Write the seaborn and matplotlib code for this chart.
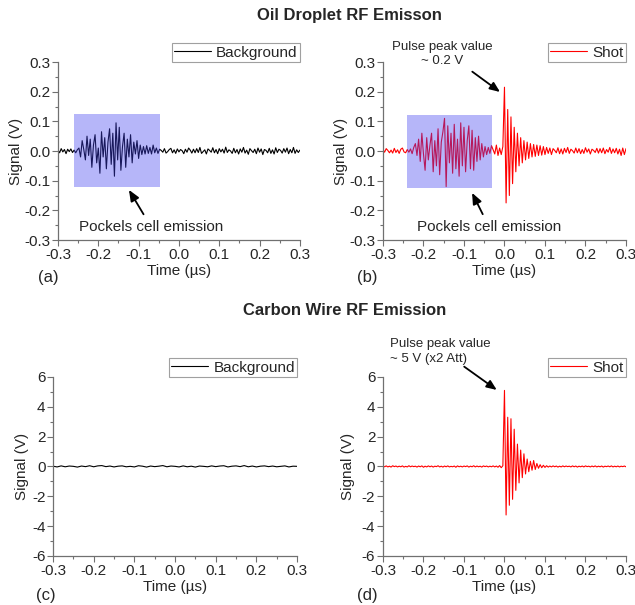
import numpy as np
import pandas as pd
import matplotlib
matplotlib.use("Agg")
import matplotlib.pyplot as plt
import seaborn as sns
from matplotlib.patches import Rectangle
from matplotlib.ticker import MultipleLocator

# sampling of the traces (µs)
T0 = -0.3
DT = 0.004
DT_C = 0.01

# oil droplet, background trace (V), 151 samples
oil_background = [
    0.004, -0.006, 0.008, -0.003, 0.005, -0.009, 0.006, -0.002, 0.007, -0.005, 0.003, -0.006, 0.004,
    0.010, -0.020, 0.035, 0.005, -0.030, 0.050, -0.015, 0.040, -0.055, 0.020,
    0.055, -0.040, 0.010, -0.075, 0.065, -0.020, 0.045, -0.060, 0.030, 0.075,
    -0.045, 0.060, -0.085, 0.095, -0.030, 0.080, -0.065, 0.015, 0.060, -0.055,
    0.040, -0.020, 0.055, -0.040, 0.030, -0.010, 0.035, -0.025,
    0.020, -0.012, 0.015, -0.010, 0.018, -0.008, 0.012, -0.010, 0.020, -0.006, 0.010, -0.008,
    0.006, 0.002, -0.004, 0.008, -0.007, -0.002, 0.005, 0.009, -0.006, 0.004,
    -0.008, 0.007, -0.003, 0.005, 0.001, -0.009, 0.006, -0.004, 0.010, 0.003,
    -0.007, 0.006, -0.006, 0.008, -0.005, 0.012, -0.008, -0.002, 0.004, -0.010,
    0.007, 0.002, -0.004, 0.011, -0.006, 0.005, -0.009, 0.008, -0.003, 0.006,
    -0.007, 0.013, -0.005, 0.004, 0.000, -0.008, 0.009, -0.006, 0.005, -0.010,
    0.007, -0.004, 0.012, -0.007, 0.003, -0.011, 0.008, 0.001, -0.005, 0.006,
    -0.009, 0.010, -0.004, 0.007, -0.012, 0.005, 0.002, -0.006, 0.009, -0.008,
    0.004, -0.010, 0.011, -0.005, 0.006, 0.002, -0.007, 0.008, -0.004, 0.010,
    -0.009, 0.005, -0.006, 0.012, -0.008, 0.004, -0.005, 0.003,
]

# oil droplet, shot trace (V), 151 samples
oil_shot = [
    0.005, -0.004, 0.008, 0.002, -0.006, 0.003, -0.007, 0.009, -0.005, 0.004,
    -0.008, 0.006, 0.010, -0.003, -0.006, 0.005, -0.004, 0.007, -0.009, 0.012,
    0.025, -0.015, 0.040, -0.035, 0.060, -0.010, -0.065, 0.045, -0.030, 0.020,
    0.060, -0.070, 0.035, -0.050, 0.075, -0.080, 0.030, 0.065, 0.110, -0.120,
    0.085, -0.040, 0.060, -0.075, 0.090, -0.060, 0.040, -0.085, 0.095, -0.050,
    0.080, -0.070, 0.035, 0.085, -0.060, 0.070, -0.065, 0.045, -0.035, 0.050,
    -0.030, 0.025, -0.020, 0.015, -0.012,
    0.012, -0.008, 0.018, 0.004, -0.010, 0.020, -0.015, 0.010, -0.012, 0.015,
    0.215, -0.175, 0.140, -0.150, 0.115, -0.110, 0.080, -0.070, 0.060, -0.050,
    0.045, -0.040, 0.035, -0.030, 0.030, -0.025, 0.025, -0.020, 0.022, -0.018,
    0.020, -0.015, 0.018, -0.014, 0.015, -0.012,
    0.012, -0.008, 0.010, -0.012, 0.008, 0.002, -0.006, 0.011, -0.009, 0.007,
    -0.010, 0.009, -0.005, 0.012, -0.008, 0.006, 0.001, -0.007, 0.010, -0.006,
    0.008, -0.009, 0.005, -0.008, 0.011, -0.004, 0.007, -0.010, 0.006, 0.002,
    -0.005, 0.009, -0.007, 0.008, -0.006, 0.010, -0.009, 0.005, -0.004, 0.012,
    -0.008, 0.007, -0.006, 0.009, -0.010, 0.006, -0.015, 0.010, -0.012, 0.008,
]

# carbon wire, background trace (V), 61 samples
carbon_background = [
    0.02, -0.03, 0.04, -0.02, 0.03, 0.01, -0.04, 0.03, -0.01, 0.05,
    -0.02, 0.04, 0.06, -0.01, 0.03, -0.03, 0.02, 0.04, -0.02, 0.01,
    -0.03, 0.05, 0.02, -0.04, 0.03, -0.01, 0.02, 0.06, -0.02, 0.03,
    0.01, -0.03, 0.04, -0.02, 0.02, -0.04, 0.03, 0.01, -0.02, 0.04,
    -0.01, 0.03, 0.05, -0.03, 0.02, 0.04, -0.01, 0.06, -0.02, 0.03,
    -0.03, 0.02, 0.04, -0.01, 0.03, -0.02, 0.01, 0.04, -0.03, 0.02,
    0.01,
]

# carbon wire, shot trace (V), 151 samples
carbon_shot = [
    0.03, -0.02, 0.04, -0.03, 0.02, -0.04, 0.05, -0.01, 0.03, -0.03,
    0.02, -0.02, 0.04, -0.04, 0.01, -0.03, 0.05, -0.02, 0.03, -0.01,
    0.02, -0.04, 0.03, -0.02, 0.04, -0.05, 0.02, -0.03, 0.04, -0.02,
    0.03, -0.04, 0.02, -0.01, 0.05, -0.03, 0.02, -0.04, 0.03, -0.02,
    0.04, -0.03, 0.01, -0.02, 0.03, -0.05, 0.04, -0.02, 0.02, -0.03,
    0.03, -0.01, 0.04, -0.04, 0.02, -0.02, 0.05, -0.03, 0.03, -0.02,
    0.02, -0.04, 0.04, -0.01, 0.03, -0.03, 0.02, -0.02, 0.04, -0.03,
    0.03, -0.05, 0.06, -0.08, 0.05,
    5.10, -3.25, 3.30, -2.60, 3.20, -2.20, 2.50, -1.60, 1.50, -1.10,
    1.10, -0.75, 0.85, -0.50, 0.50, -0.35, 0.35, -0.25, 0.40, -0.20,
    0.20, -0.12, 0.12, -0.08, 0.08, -0.06,
    0.05, -0.04, 0.03, -0.03, 0.04, -0.02, 0.03, -0.04, 0.02, -0.03,
    0.04, -0.02, 0.03, -0.01, 0.02, -0.03, 0.04, -0.02, 0.03, -0.04,
    0.02, -0.02, 0.03, -0.03, 0.04, -0.01, 0.02, -0.03, 0.03, -0.02,
    0.04, -0.03, 0.02, -0.02, 0.03, -0.04, 0.02, -0.01, 0.03, -0.02,
    0.04, -0.03, 0.02, -0.02, 0.03, -0.03, 0.02, -0.01, 0.03, -0.02,
]


def times(n, dt):
    return np.round(T0 + dt * np.arange(n), 4)


def make_df(sig, dt):
    return pd.DataFrame({"time": times(len(sig), dt), "signal": sig})


sns.set_style("ticks")
plt.rcParams['font.family'] = ['Liberation Sans', 'DejaVu Sans']
plt.rcParams['axes.unicode_minus'] = False

AXIS_GRAY = "#707070"
BOX_COLOR = "#4040f0"


def style_panel(ax, ylim, ymajor, yminor, lab_x):
    ax.set_xlim(-0.3, 0.3)
    ax.set_ylim(*ylim)
    ax.xaxis.set_major_locator(MultipleLocator(0.1))
    ax.xaxis.set_minor_locator(MultipleLocator(0.05))
    ax.yaxis.set_major_locator(MultipleLocator(ymajor))
    ax.yaxis.set_minor_locator(MultipleLocator(yminor))
    ax.xaxis.set_major_formatter(plt.FormatStrFormatter('%.1f'))
    if ymajor < 1:
        ax.yaxis.set_major_formatter(plt.FormatStrFormatter('%.1f'))
    sns.despine(ax=ax)
    for s in ["left", "bottom"]:
        ax.spines[s].set_color(AXIS_GRAY)
        ax.spines[s].set_linewidth(0.9)
    ax.tick_params(which="major", direction="out", length=4, width=0.8,
                   color=AXIS_GRAY, labelsize=11, pad=1.5)
    ax.tick_params(which="minor", direction="out", length=2, width=0.8,
                   color=AXIS_GRAY)
    ax.set_xlabel("Time (µs)", fontsize=11)
    ax.set_ylabel("Signal (V)", fontsize=11)
    ax.xaxis.set_label_coords(0.5, -0.135)
    ax.yaxis.set_label_coords(lab_x, 0.5)
    leg = ax.legend(loc="lower right", bbox_to_anchor=(1.0, 1.0), borderaxespad=0,
                    fontsize=11, frameon=True, fancybox=False, handlelength=2.4,
                    handletextpad=0.35, borderpad=0.15)
    leg.get_frame().set_edgecolor("#888888")
    leg.get_frame().set_linewidth(0.8)


def plot_trace(ax, df, color, name):
    sns.lineplot(data=df, x="time", y="signal", ax=ax, color=color, linewidth=0.8,
                 estimator=None, sort=False, label=name, zorder=2)


fig = plt.figure(figsize=(6.35, 6.05), dpi=100)
ax_a = fig.add_axes([0.0913, 0.6033, 0.381, 0.2942])
ax_b = fig.add_axes([0.6031, 0.6033, 0.3827, 0.2942])
ax_c = fig.add_axes([0.0835, 0.0810, 0.3843, 0.2959])
ax_d = fig.add_axes([0.6031, 0.0810, 0.3827, 0.2959])

plot_trace(ax_a, make_df(oil_background, DT), "black", "Background")
plot_trace(ax_b, make_df(oil_shot, DT), "#ff0000", "Shot")
plot_trace(ax_c, make_df(carbon_background, DT_C), "black", "Background")
plot_trace(ax_d, make_df(carbon_shot, DT), "#ff0000", "Shot")

style_panel(ax_a, (-0.3, 0.3), 0.1, 0.05, -0.145)
style_panel(ax_b, (-0.3, 0.3), 0.1, 0.05, -0.144)
style_panel(ax_c, (-6, 6), 2, 1, -0.10)
style_panel(ax_d, (-6, 6), 2, 1, -0.115)

# Pockels cell regions
ax_a.add_patch(Rectangle((-0.26, -0.121), 0.213, 0.246, facecolor=BOX_COLOR,
                         alpha=0.38, edgecolor="none", zorder=3))
ax_b.add_patch(Rectangle((-0.241, -0.125), 0.21, 0.246, facecolor=BOX_COLOR,
                         alpha=0.38, edgecolor="none", zorder=3))

arrow = dict(arrowstyle="-|>,head_length=0.6,head_width=0.25", color="black",
             lw=1.3, shrinkA=2, shrinkB=0)

ax_a.annotate("Pockels cell emission", xy=(-0.124, -0.131), xytext=(-0.069, -0.256),
              ha="center", va="center", fontsize=11, arrowprops=arrow, zorder=5)
ax_b.annotate("Pockels cell emission", xy=(-0.080, -0.141), xytext=(-0.038, -0.256),
              ha="center", va="center", fontsize=11, arrowprops=arrow, zorder=5)

ax_b.text(-0.154, 0.326, "Pulse peak value\n~ 0.2 V", ha="center", va="center",
          fontsize=9.5, linespacing=1.25)
ax_b.annotate("", xy=(-0.011, 0.199), xytext=(-0.085, 0.273), arrowprops=arrow,
              annotation_clip=False)

ax_d.text(-0.283, 7.71, "Pulse peak value\n~ 5 V (x2 Att)", ha="left", va="center",
          fontsize=9.5, linespacing=1.25)
ax_d.annotate("", xy=(-0.019, 5.13), xytext=(-0.105, 6.8), arrowprops=arrow,
              annotation_clip=False)

fig.text(0.5496, 0.9736, "Oil Droplet RF Emisson", ha="center", va="center",
         fontsize=12, fontweight="bold")
fig.text(0.543, 0.4876, "Carbon Wire RF Emission", ha="center", va="center",
         fontsize=12, fontweight="bold")

for lab, x, y in [("(a)", 0.076, 0.5405), ("(b)", 0.578, 0.5405),
                  ("(c)", 0.0724, 0.0165), ("(d)", 0.578, 0.0165)]:
    fig.text(x, y, lab, ha="center", va="center", fontsize=12)

fig.savefig("out.png", dpi=100)
